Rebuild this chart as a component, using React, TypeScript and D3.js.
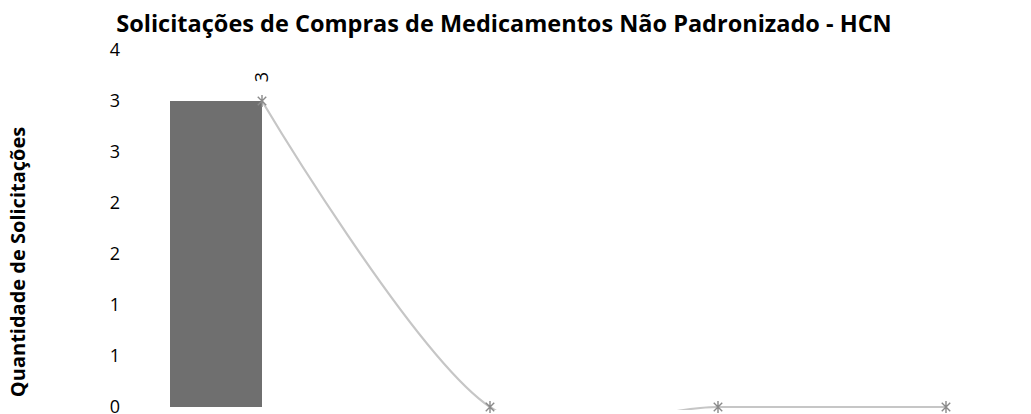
import React from 'react';
import * as d3 from 'd3';

const categories = ['Jan', 'Fev', 'Mar', 'Abr'];
const barValues = [3, 0, 0, 0];
const lineValues = [3, 0, 0, 0];
const yTicks = [0, 0.5, 1, 1.5, 2, 2.5, 3, 3.5];

const width = 1031;
const height = 414;
const font = '"Open Sans", Lato, sans-serif';

const App: React.FC = () => {
  const x = d3.scalePoint<string>().domain(categories).range([262, 946]);
  const y = d3.scaleLinear().domain([0, 3.5]).range([407, 50]);
  const barW = 92;

  const line = d3
    .line<number>()
    .x((_, i) => x(categories[i])!)
    .y((d) => y(d))
    .curve(d3.curveCardinal.tension(0));

  // asterisk marker: an X plus a vertical stroke
  const star = (cx: number, cy: number, r: number) => {
    const angles = [Math.PI / 4, (3 * Math.PI) / 4, Math.PI / 2];
    return angles
      .map((a) => {
        const dx = Math.cos(a) * r;
        const dy = Math.sin(a) * r;
        return `M${cx - dx},${cy - dy}L${cx + dx},${cy + dy}`;
      })
      .join('');
  };

  return (
    <svg width={width} height={height} style={{ position: 'absolute', left: 0, top: 0 }}>
      <defs>
        <clipPath id="plot">
          <rect x={130} y={40} width={880} height={370} />
        </clipPath>
      </defs>
      <text
        x={504}
        y={32}
        textAnchor="middle"
        fontFamily={font}
        fontWeight="bold"
        fontSize={23.5}
        fill="#000"
      >
        Solicitações de Compras de Medicamentos Não Padronizado - HCN
      </text>
      <text
        transform={`translate(25, 262) rotate(-90)`}
        textAnchor="middle"
        fontFamily={font}
        fontWeight="bold"
        fontSize={20}
        fill="#000"
      >
        Quantidade de Solicitações
      </text>
      {yTicks.map((t) => (
        <text
          key={t}
          x={120}
          y={y(t)}
          dy="0.36em"
          textAnchor="end"
          fontFamily={font}
          fontSize={18}
          fill="#000"
        >
          {Math.round(t)}
        </text>
      ))}
      {barValues.map((v, i) =>
        v > 0 ? (
          <rect
            key={i}
            x={x(categories[i])! - barW}
            y={y(v)}
            width={barW}
            height={y(0) - y(v)}
            fill="#6f6f6f"
          />
        ) : null
      )}
      <path
        d={line(lineValues) || ''}
        fill="none"
        stroke="#c6c6c6"
        strokeWidth={2.2}
        clipPath="url(#plot)"
      />
      {lineValues.map((v, i) => (
        <path
          key={i}
          d={star(x(categories[i])!, y(v), 6)}
          stroke="#8a8a8a"
          strokeWidth={1.4}
          fill="none"
        />
      ))}
      {lineValues.map((v, i) =>
        v > 0 ? (
          <text
            key={i}
            transform={`translate(${x(categories[i])! + 6}, ${y(v) - 24}) rotate(-90)`}
            textAnchor="middle"
            fontFamily={font}
            fontSize={18}
            fill="#000"
          >
            {v}
          </text>
        ) : null
      )}
    </svg>
  );
};

export default App;
